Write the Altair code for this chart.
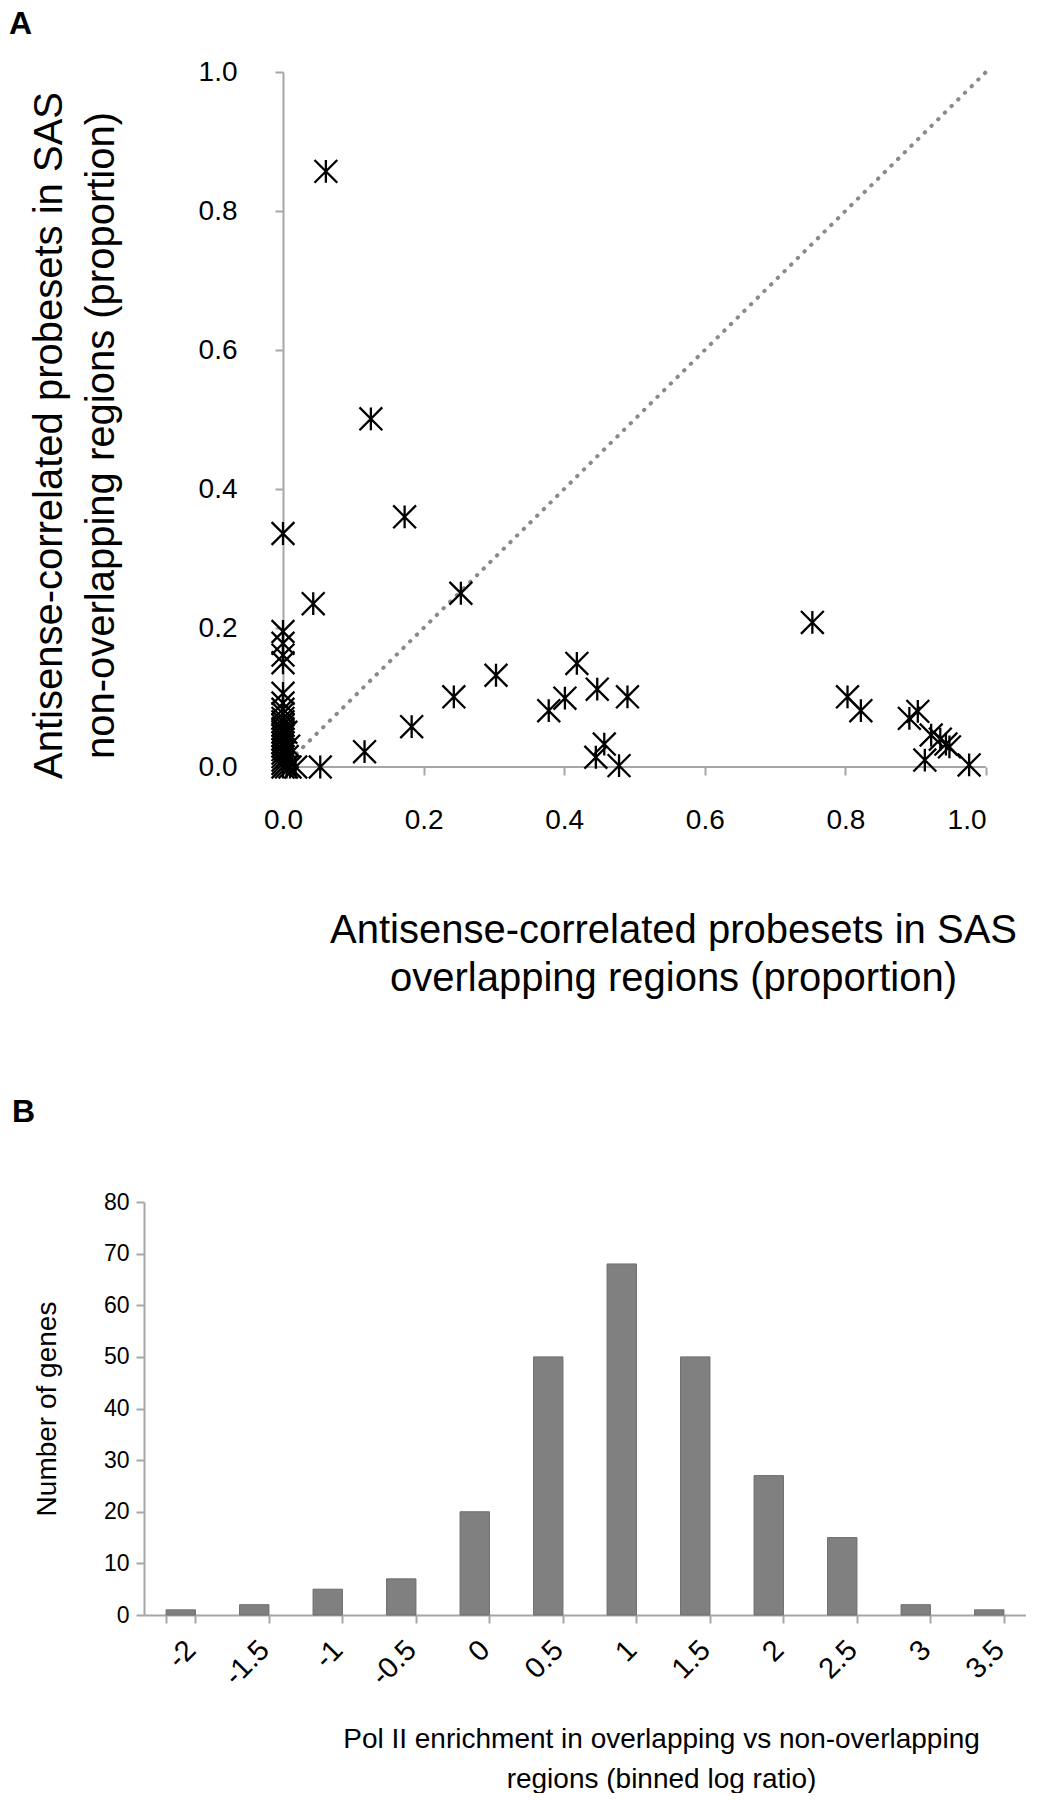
import altair as alt
import pandas as pd

FONT = "Liberation Sans"

# ---------------- Panel A data (scatter) ----------------
a_x = [0.061, 0.125, 0.173, 0.0, 0.043, 0.253, 0.753,
       0.0, 0.0, 0.0, 0.0, 0.0, 0.0, 0.0,
       0.418, 0.303, 0.243, 0.183, 0.116, 0.053, 0.018,
       0.378, 0.401, 0.447, 0.490, 0.445, 0.457, 0.478,
       0.803, 0.822, 0.891, 0.903, 0.922, 0.935, 0.913, 0.948, 0.943, 0.976,
       0.0, 0.0, 0.0, 0.0, 0.0, 0.0, 0.0, 0.0, 0.0, 0.0, 0.0, 0.0, 0.0, 0.0,
       0.0, 0.0, 0.005, 0.008, 0.004, 0.01, 0.006]
a_y = [0.857, 0.501, 0.360, 0.336, 0.235, 0.250, 0.208,
       0.195, 0.178, 0.161, 0.150, 0.106, 0.092, 0.083,
       0.149, 0.132, 0.101, 0.058, 0.022, 0.0, 0.0,
       0.081, 0.099, 0.112, 0.101, 0.014, 0.033, 0.002,
       0.101, 0.081, 0.070, 0.080, 0.046, 0.040, 0.010, 0.029, 0.033, 0.003,
       0.077, 0.070, 0.065, 0.060, 0.055, 0.050, 0.045, 0.040, 0.035, 0.030,
       0.025, 0.020, 0.015, 0.010, 0.005, 0.0,
       0.0, 0.030, 0.050, 0.0, 0.015]
a_ticks = [0.0, 0.2, 0.4, 0.6, 0.8, 1.0]
diag_x = [0.0, 1.0]
diag_y = [0.0, 1.0]

# ---------------- Panel B data (histogram) ----------------
b_bins = ["-2", "-1.5", "-1", "-0.5", "0", "0.5", "1", "1.5", "2", "2.5", "3", "3.5"]
b_counts = [1, 2, 5, 7, 20, 50, 68, 50, 27, 15, 2, 1]
b_ticks = [0, 10, 20, 30, 40, 50, 60, 70, 80]

n = min(len(a_x), len(a_y))
pts = pd.DataFrame({"x": a_x[:n], "y": a_y[:n]})
diag = pd.DataFrame({"x": diag_x, "y": diag_y})
xline = pd.DataFrame({"x0": [0.0], "x1": [1.0], "y0": [0.0]})
bdf = pd.DataFrame({"bin": b_bins, "n": b_counts})
one = pd.DataFrame({"k": [0]})

AXC = "#a6a6a6"
star = "M-1,-1L1,1M-1,1L1,-1M0,-1L0,1"

# Page geometry (px)
ORIGIN_X = 143          # common plot origin of the column (panel B y axis)
A_AX_X = 282            # panel A y axis position
A_RIGHT = 985           # panel A x = 1.0
A_Y0 = 72               # panel A y = 1.0
A_H = 695
A_BASE = A_Y0 + A_H
shift = A_AX_X - ORIGIN_X
a_unit = A_RIGHT - A_AX_X
AW = A_RIGHT - ORIGIN_X
x_lo = -shift / a_unit

xsc = alt.Scale(domain=[x_lo, 1], nice=False, zero=False)
ysc = alt.Scale(domain=[0, 1], nice=False, zero=False)

xaxA = alt.Axis(values=a_ticks, format=".1f", grid=False, domain=False,
                tickColor=AXC, tickWidth=2, tickSize=8,
                labelFont=FONT, labelFontSize=28, labelColor="black", labelPadding=31,
                title=["Antisense-correlated probesets in SAS", "overlapping regions (proportion)"],
                titleFont=FONT, titleFontSize=40, titleFontWeight="normal", titleColor="black",
                titleLineHeight=48, titleX=672 - ORIGIN_X, titleY=930 - A_BASE,
                titleBaseline="middle", titleAlign="center")
yaxA = alt.Axis(values=a_ticks, format=".1f", grid=False, offset=-shift,
                domainColor=AXC, domainWidth=2, tickColor=AXC, tickWidth=2, tickSize=8,
                labelFont=FONT, labelFontSize=28, labelColor="black", labelPadding=38,
                title=["Antisense-correlated probesets in SAS", "non-overlapping regions (proportion)"],
                titleFont=FONT, titleFontSize=40, titleFontWeight="normal", titleColor="black",
                titleLineHeight=52, titleX=48 - A_AX_X, titleY=363, titleBaseline="middle",
                titleAlign="center", titleAngle=-90)

x_axis_line = alt.Chart(xline).mark_rule(color=AXC, strokeWidth=2).encode(
    x=alt.X("x0:Q", scale=xsc, axis=xaxA), x2="x1:Q", y=alt.Y("y0:Q", scale=ysc, axis=yaxA))
diag_line = alt.Chart(diag).mark_line(color="#8a8a8a", strokeDash=[0.5, 8.9], strokeCap="round",
                                      strokeWidth=4).encode(
    x=alt.X("x:Q", scale=xsc, axis=xaxA), y=alt.Y("y:Q", scale=ysc, axis=yaxA))
points = alt.Chart(pts).mark_point(shape=star, size=520, filled=False, color="black",
                                   strokeWidth=2.3, opacity=1).encode(
    x=alt.X("x:Q", scale=xsc, axis=xaxA), y=alt.Y("y:Q", scale=ysc, axis=yaxA))
labelA = alt.Chart(one).mark_text(text="A", font=FONT, fontSize=32, fontWeight="bold",
                                  align="left", baseline="alphabetic", color="black").encode(
    x=alt.value(8 - ORIGIN_X), y=alt.value(34 - A_Y0))
boundA_top = alt.Chart(one).mark_rule(color="white", strokeWidth=1).encode(
    x=alt.value(-ORIGIN_X), x2=alt.value(-ORIGIN_X + 1), y=alt.value(-A_Y0 + 0.5))
A_BOTTOM = 1045
boundA_bot = alt.Chart(one).mark_rule(color="white", strokeWidth=1).encode(
    x=alt.value(-ORIGIN_X), x2=alt.value(-ORIGIN_X + 1), y=alt.value(A_BOTTOM - A_Y0 - 0.5))

chartA = alt.layer(boundA_top, boundA_bot, x_axis_line, diag_line, points, labelA).properties(
    width=AW, height=A_H)

# Panel B geometry
BW = 882
B_Y0 = 1202
B_BASE = 1615
BH = B_BASE - B_Y0
B_TOP = 1080

xaxB = alt.Axis(labelAngle=-45, tickBand="extent", grid=False,
                domainColor=AXC, domainWidth=2, tickColor=AXC, tickWidth=2, tickSize=8,
                labelFont=FONT, labelFontSize=29, labelColor="black", labelPadding=12,
                title=["Pol II enrichment in overlapping vs non-overlapping", "regions (binned log ratio)"],
                titleFont=FONT, titleFontSize=28, titleFontWeight="normal", titleColor="black",
                titleLineHeight=40, titleX=660 - ORIGIN_X, titleY=1739 - B_BASE,
                titleBaseline="middle", titleAlign="center")
yaxB = alt.Axis(values=b_ticks, grid=False,
                domainColor=AXC, domainWidth=2, tickColor=AXC, tickWidth=2, tickSize=8,
                labelFont=FONT, labelFontSize=23, labelColor="black", labelPadding=7,
                title="Number of genes",
                titleFont=FONT, titleFontSize=28, titleFontWeight="normal", titleColor="black",
                titleX=46 - ORIGIN_X, titleY=BH / 2, titleBaseline="middle", titleAlign="center",
                titleAngle=-90)

bars = alt.Chart(bdf).mark_bar(color="#808080", stroke="#6e6e6e", strokeWidth=1).encode(
    x=alt.X("bin:N", sort=b_bins, scale=alt.Scale(paddingInner=0.6, paddingOuter=0.3), axis=xaxB),
    y=alt.Y("n:Q", scale=alt.Scale(domain=[0, 80], nice=False), axis=yaxB))
labelB = alt.Chart(one).mark_text(text="B", font=FONT, fontSize=32, fontWeight="bold",
                                  align="left", baseline="alphabetic", color="black").encode(
    x=alt.value(11 - ORIGIN_X), y=alt.value(1122 - B_Y0))
boundB_top = alt.Chart(one).mark_rule(color="white", strokeWidth=1).encode(
    x=alt.value(-ORIGIN_X), x2=alt.value(-ORIGIN_X + 1), y=alt.value(B_TOP - B_Y0 + 0.5))

chartB = alt.layer(boundB_top, bars, labelB).properties(width=BW, height=BH)

chart = alt.vconcat(chartA, chartB, spacing=B_TOP - A_BOTTOM).properties(
    padding=0, background="white"
).configure_view(stroke=None)

chart.save("out.html", embed_options={"renderer": "svg", "actions": False})
